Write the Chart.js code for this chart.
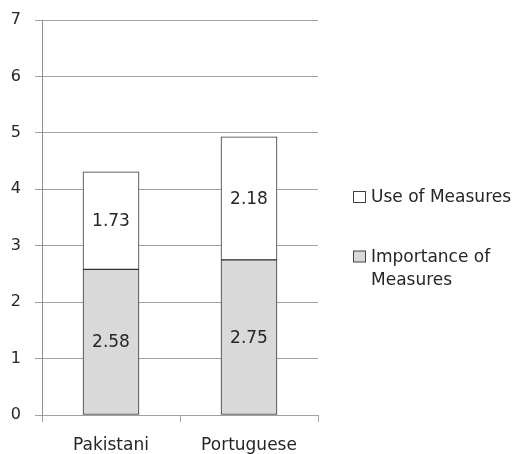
<!DOCTYPE html>
<html>
<head>
<meta charset="utf-8">
<style>
  html, body { margin: 0; padding: 0; background: #fff; }
  #wrap { width: 520px; height: 454px; }
</style>
<script src="https://cdn.jsdelivr.net/npm/chart.js@4/dist/chart.umd.min.js"></script>
</head>
<body>
<div id="wrap"><canvas id="c" width="520" height="454"></canvas></div>
<script>
// Categories and stacked series
const categories = ['Pakistani', 'Portuguese'];
const importanceOfMeasures = [2.58, 2.75];
const useOfMeasures = [1.73, 2.18];
const yTicks = [0, 1, 2, 3, 4, 5, 6, 7];

const FONT = '"DejaVu Sans", sans-serif';
const TEXT = '#262626';
const GRID = '#a0a0a0';
const EDGE = '#333333';

// Values printed in the middle of every stacked segment
const segmentLabels = {
  id: 'segmentLabels',
  afterDatasetsDraw(chart) {
    const ctx = chart.ctx;
    ctx.save();
    ctx.font = '17px ' + FONT;
    ctx.fillStyle = TEXT;
    ctx.textAlign = 'center';
    ctx.textBaseline = 'middle';
    chart.data.datasets.forEach((ds, i) => {
      chart.getDatasetMeta(i).data.forEach((bar, j) => {
        const p = bar.getProps(['x', 'y', 'base'], true);
        ctx.fillText(ds.data[j].toFixed(2), p.x, (p.y + p.base) / 2 + 1);
      });
    });
    ctx.restore();
  }
};

// Legend on the right, last series first, long names wrapped
const sideLegend = {
  id: 'sideLegend',
  afterDraw(chart) {
    const ctx = chart.ctx;
    const entries = [
      { ds: chart.data.datasets[1], lines: ['Use of Measures'], y: 197 },
      { ds: chart.data.datasets[0], lines: ['Importance of', 'Measures'], y: 256.5 }
    ];
    ctx.save();
    ctx.font = '17px ' + FONT;
    ctx.textAlign = 'left';
    ctx.textBaseline = 'middle';
    entries.forEach(e => {
      ctx.fillStyle = e.ds.backgroundColor;
      ctx.fillRect(353.5, e.y - 5.5, 12, 11);
      ctx.strokeStyle = '#404040';
      ctx.lineWidth = 1;
      ctx.strokeRect(353.5, e.y - 5.5, 12, 11);
      ctx.fillStyle = TEXT;
      e.lines.forEach((t, k) => ctx.fillText(t, 371, e.y + 1 + k * 23.5));
    });
    ctx.restore();
  }
};

new Chart(document.getElementById('c'), {
  type: 'bar',
  data: {
    labels: categories,
    datasets: [
      {
        label: 'Importance of Measures',
        data: importanceOfMeasures,
        backgroundColor: '#d9d9d9',
        borderColor: EDGE,
        borderWidth: 1,
        borderSkipped: false
      },
      {
        label: 'Use of Measures',
        data: useOfMeasures,
        backgroundColor: '#ffffff',
        borderColor: EDGE,
        borderWidth: 1,
        borderSkipped: false
      }
    ]
  },
  options: {
    responsive: false,
    animation: false,
    devicePixelRatio: 1,
    layout: { padding: { top: 20, right: 202, left: 0, bottom: 0 } },
    datasets: { bar: { barThickness: 56 } },
    plugins: {
      legend: { display: false },
      tooltip: { enabled: false }
    },
    scales: {
      x: {
        stacked: true,
        offset: true,
        afterFit(scale) { scale.height = 39; },
        grid: {
          offset: true,
          drawOnChartArea: false,
          drawTicks: true,
          tickLength: 7,
          color: GRID
        },
        border: { display: true, color: GRID },
        ticks: {
          color: TEXT,
          font: { family: FONT, size: 17 },
          padding: 13,
          maxRotation: 0
        }
      },
      y: {
        stacked: true,
        min: 0,
        max: 7,
        afterFit(scale) {
          scale.width = 42;
          // keep the label gap from inflating the plot's top margin
          scale.paddingTop = 10;
          scale.paddingBottom = 10;
        },
        afterBuildTicks(scale) { scale.ticks = yTicks.map(v => ({ value: v })); },
        grid: {
          color: GRID,
          drawTicks: true,
          tickLength: 7
        },
        border: { display: true, color: '#8c8c8c' },
        ticks: {
          color: TEXT,
          font: { family: FONT, size: 16 },
          padding: 14
        }
      }
    }
  },
  plugins: [segmentLabels, sideLegend]
});
</script>
</body>
</html>
